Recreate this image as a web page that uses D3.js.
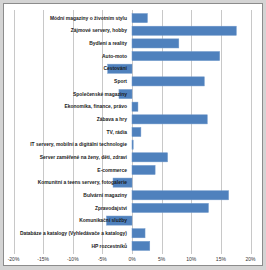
<!DOCTYPE html>
<html lang="cs">
    <head>
        <meta charset="utf-8">
        <title>Bar chart</title>
        <script type="text/javascript" src="https://cdn.jsdelivr.net/npm/d3@7"></script>
        <style type="text/css">
            body { margin: 0; background: #fff; }
        </style>
    </head>
    <body>
        <script type="text/javascript">
            var categories = [
                "Módní magazíny o životním stylu",
                "Zájmové servery, hobby",
                "Bydlení a reality",
                "Auto-moto",
                "Cestování",
                "Sport",
                "Společenské magazíny",
                "Ekonomika, finance, právo",
                "Zábava a hry",
                "TV, rádia",
                "IT servery, mobilní a digitální technologie",
                "Server zaměřené na ženy, děti, zdraví",
                "E-commerce",
                "Komunitní a teens servery, fotogalerie",
                "Bulvární magazíny",
                "Zpravodajství",
                "Komunikační služby",
                "Databáze a katalogy (Vyhledávače a katalogy)",
                "HP rozcestníků"
            ];
            var values = [2.6, 17.6, 7.9, 14.8, -4.1, 12.2, -2.2, 1.0, 12.7, 1.5,
                          0.2, 6.0, 3.9, -3.2, 16.3, 12.9, -4.3, 2.2, 3.0];
            var ticks = [-20, -15, -10, -5, 0, 5, 10, 15, 20];

            var w = 266;
            var h = 270;

            var svg = d3.select("body")
                        .append("svg")
                        .attr("width", w)
                        .attr("height", h);

            // chart frame with a soft outer edge
            svg.append("rect")
                .attr("x", 0).attr("y", 0)
                .attr("width", w).attr("height", h)
                .attr("fill", "#d4d4d4");
            svg.append("rect")
                .attr("x", 3.5).attr("y", 3.5)
                .attr("width", 259).attr("height", 262)
                .attr("fill", "#fff")
                .attr("stroke", "#8c8c8c");

            var x = d3.scaleLinear().domain([-20, 20]).range([13.5, 250.5]);
            var y = d3.scaleBand().domain(categories).range([10, 254]).padding(0.28);

            // vertical gridlines
            svg.selectAll("line.grid")
                .data(ticks)
                .enter()
                .append("line")
                .attr("class", "grid")
                .attr("x1", function(d) { return Math.round(x(d)) + 0.5; })
                .attr("x2", function(d) { return Math.round(x(d)) + 0.5; })
                .attr("y1", 10)
                .attr("y2", 254)
                .attr("stroke", "#c8c8c8")
                .attr("stroke-width", 1);

            svg.selectAll("rect.bar")
                .data(values)
                .enter()
                .append("rect")
                .attr("class", "bar")
                .attr("x", function(d) { return x(Math.min(0, d)); })
                .attr("y", function(d, i) { return y(categories[i]); })
                .attr("width", function(d) { return Math.abs(x(d) - x(0)); })
                .attr("height", y.bandwidth())
                .attr("fill", "#4f81bd")
                .attr("stroke", "#6f97c9")
                .attr("stroke-width", 0.5);

            // category labels sit beside the zero axis
            svg.selectAll("text.cat")
                .data(categories)
                .enter()
                .append("text")
                .attr("class", "cat")
                .text(function(d) { return d; })
                .attr("x", x(0) - 5)
                .attr("y", function(d) { return y(d) + y.bandwidth() / 2; })
                .attr("dy", "0.35em")
                .attr("text-anchor", "end")
                .attr("font-family", "Liberation Sans Narrow, Arial Narrow, sans-serif")
                .attr("font-weight", "bold")
                .attr("font-size", "4.95px")
                .attr("fill", "#1a1a1a");

            svg.selectAll("text.tick")
                .data(ticks)
                .enter()
                .append("text")
                .attr("class", "tick")
                .text(function(d) { return d + "%"; })
                .attr("x", function(d) { return x(d); })
                .attr("y", 261)
                .attr("text-anchor", "middle")
                .attr("font-family", "Liberation Sans, Arial, sans-serif")
                .attr("font-size", "5px")
                .attr("fill", "#333");
        </script>
    </body>
</html>
